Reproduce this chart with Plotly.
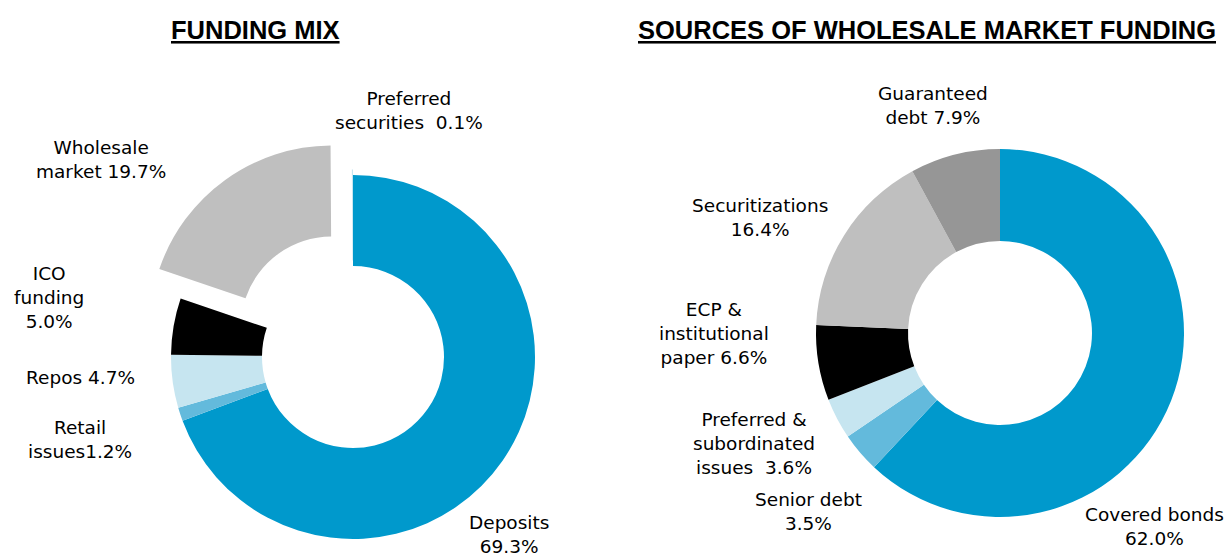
import plotly.graph_objects as go

# ---------------- data ----------------
mix_labels = ["Deposits", "Retail issues", "Repos", "ICO funding", "Wholesale market", "Preferred securities"]
mix_values = [69.3, 1.2, 4.7, 5.0, 19.7, 0.1]
mix_texts = ["Deposits<br>69.3%", "Retail<br>issues1.2%", "Repos 4.7%", "ICO<br>funding<br>5.0%",
             "Wholesale<br>market 19.7%", "Preferred<br>securities  0.1%"]

wm_labels = ["Covered bonds", "Senior debt", "Preferred & subordinated issues",
             "ECP & institutional paper", "Securitizations", "Guaranteed debt"]
wm_values = [62.0, 3.5, 3.6, 6.6, 16.4, 7.9]
wm_texts = ["Covered bonds<br>62.0%", "Senior debt<br>3.5%", "Preferred &<br>subordinated<br>issues  3.6%",
            "ECP &<br>institutional<br>paper 6.6%", "Securitizations<br>16.4%", "Guaranteed<br>debt 7.9%"]

titles = ["FUNDING MIX", "SOURCES OF WHOLESALE MARKET FUNDING"]

# ---------------- styles / layout ----------------
W, H = 1228, 600          # the window shows the top 558 px; extra room lets the pulled slice keep full radius
mix_colors = ["#0099CC", "#63BADC", "#C6E5F0", "#000000", "#BFBFBF", "#C6E5F0"]
wm_colors = ["#0099CC", "#63BADC", "#C6E5F0", "#000000", "#BFBFBF", "#969696"]
mix_pull = [0, 0, 0, 0, 0.2, 0.03]

# label centres in pixels
mix_pos = [(509, 534), (80, 440), (80, 377), (49, 298), (101, 160), (409, 110)]
wm_pos = [(1154, 526), (808, 511), (754, 443), (714, 333), (760, 218), (933, 105)]
title_pos = [(255, 30), (927, 30)]


def dom(cx, cy, r, pull):
    half = r * (1 + pull)
    return dict(x=[max(0, (cx - half) / W), min(1, (cx + half) / W)],
                y=[max(0, (H - cy - half) / H), min(1, (H - cy + half) / H)])


fig = go.Figure()
fig.add_trace(go.Pie(
    labels=mix_labels, values=mix_values, sort=False, direction="clockwise", rotation=0,
    hole=0.5, pull=mix_pull, textinfo="none", showlegend=False,
    marker=dict(colors=mix_colors, line=dict(width=0)),
    domain=dom(353, 357, 182, max(mix_pull)),
))
fig.add_trace(go.Pie(
    labels=wm_labels, values=wm_values, sort=False, direction="clockwise", rotation=0,
    hole=0.5, textinfo="none", showlegend=False,
    marker=dict(colors=wm_colors, line=dict(width=0)),
    domain=dom(1000, 333, 184, 0),
))

font = dict(family="DejaVu Sans, Arial, sans-serif", size=18.5, color="#000000")
ann = []
for txt, (px, py) in list(zip(mix_texts, mix_pos)) + list(zip(wm_texts, wm_pos)):
    ann.append(dict(text=txt, x=px / W, y=1 - py / H, xref="paper", yref="paper",
                    xanchor="center", yanchor="middle", showarrow=False, align="center",
                    font=font))
for t, (px, py) in zip(titles, title_pos):
    ann.append(dict(text="<b><u>" + t + "</u></b>", x=px / W, y=1 - py / H, xref="paper", yref="paper",
                    xanchor="center", yanchor="middle", showarrow=False,
                    font=dict(family="Liberation Sans, Arial, sans-serif", size=25.5, color="#000000")))

fig.update_layout(width=W, height=H, margin=dict(l=0, r=0, t=0, b=0),
                  paper_bgcolor="white", plot_bgcolor="white", annotations=ann)
fig.write_html("out.html", config={"displayModeBar": False},
               post_script="document.body.style.margin='0';document.body.style.overflow='hidden';")
